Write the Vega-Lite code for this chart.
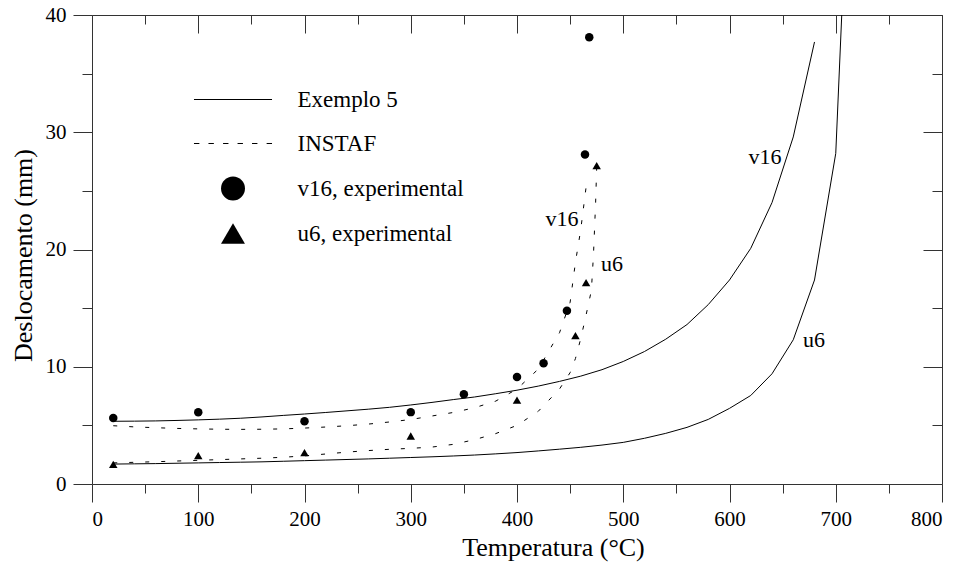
{
  "$schema": "https://vega.github.io/schema/vega-lite/v6.json",
  "autosize": {"type": "none"},
  "padding": {"left": 92, "top": 15, "right": 20, "bottom": 83},
  "width": 850,
  "height": 469,
  "background": "white",
  "config": {
    "font": "Liberation Serif",
    "view": {"stroke": null},
    "text": {"font": "Liberation Serif"},
    "legend": {"labelFont": "Liberation Serif"},
    "axis": {
      "grid": false,
      "domainColor": "#333",
      "tickColor": "#333",
      "tickWidth": 1,
      "domainWidth": 1,
      "labelFont": "Liberation Serif",
      "labelFontSize": 21,
      "labelColor": "black",
      "titleFont": "Liberation Serif",
      "titleFontSize": 26,
      "titleFontWeight": "normal",
      "titleColor": "black"
    }
  },
  "datasets": {
    "exemplo": [
      {"t": 20, "d": 5.35, "curva": "v16"}, {"t": 40, "d": 5.36, "curva": "v16"}, {"t": 60, "d": 5.38, "curva": "v16"}, {"t": 80, "d": 5.42, "curva": "v16"},
      {"t": 100, "d": 5.47, "curva": "v16"}, {"t": 120, "d": 5.53, "curva": "v16"}, {"t": 140, "d": 5.61, "curva": "v16"}, {"t": 160, "d": 5.72, "curva": "v16"},
      {"t": 180, "d": 5.85, "curva": "v16"}, {"t": 200, "d": 5.97, "curva": "v16"}, {"t": 220, "d": 6.1, "curva": "v16"}, {"t": 240, "d": 6.24, "curva": "v16"},
      {"t": 260, "d": 6.38, "curva": "v16"}, {"t": 280, "d": 6.54, "curva": "v16"}, {"t": 300, "d": 6.74, "curva": "v16"}, {"t": 320, "d": 6.96, "curva": "v16"},
      {"t": 340, "d": 7.2, "curva": "v16"}, {"t": 360, "d": 7.42, "curva": "v16"}, {"t": 380, "d": 7.7, "curva": "v16"}, {"t": 400, "d": 8.0, "curva": "v16"},
      {"t": 420, "d": 8.35, "curva": "v16"}, {"t": 440, "d": 8.75, "curva": "v16"}, {"t": 460, "d": 9.2, "curva": "v16"}, {"t": 480, "d": 9.75, "curva": "v16"},
      {"t": 500, "d": 10.45, "curva": "v16"}, {"t": 520, "d": 11.3, "curva": "v16"}, {"t": 540, "d": 12.35, "curva": "v16"}, {"t": 560, "d": 13.6, "curva": "v16"},
      {"t": 580, "d": 15.3, "curva": "v16"}, {"t": 600, "d": 17.4, "curva": "v16"}, {"t": 620, "d": 20.1, "curva": "v16"}, {"t": 640, "d": 24.0, "curva": "v16"},
      {"t": 660, "d": 29.6, "curva": "v16"}, {"t": 680, "d": 37.7, "curva": "v16"},
      {"t": 20, "d": 1.7, "curva": "u6"}, {"t": 40, "d": 1.72, "curva": "u6"}, {"t": 60, "d": 1.74, "curva": "u6"}, {"t": 80, "d": 1.77, "curva": "u6"},
      {"t": 100, "d": 1.8, "curva": "u6"}, {"t": 120, "d": 1.83, "curva": "u6"}, {"t": 140, "d": 1.86, "curva": "u6"}, {"t": 160, "d": 1.89, "curva": "u6"},
      {"t": 180, "d": 1.94, "curva": "u6"}, {"t": 200, "d": 1.99, "curva": "u6"}, {"t": 220, "d": 2.04, "curva": "u6"}, {"t": 240, "d": 2.09, "curva": "u6"},
      {"t": 260, "d": 2.14, "curva": "u6"}, {"t": 280, "d": 2.2, "curva": "u6"}, {"t": 300, "d": 2.26, "curva": "u6"}, {"t": 320, "d": 2.32, "curva": "u6"},
      {"t": 340, "d": 2.39, "curva": "u6"}, {"t": 360, "d": 2.47, "curva": "u6"}, {"t": 380, "d": 2.57, "curva": "u6"}, {"t": 400, "d": 2.68, "curva": "u6"},
      {"t": 420, "d": 2.82, "curva": "u6"}, {"t": 440, "d": 2.97, "curva": "u6"}, {"t": 460, "d": 3.13, "curva": "u6"}, {"t": 480, "d": 3.32, "curva": "u6"},
      {"t": 500, "d": 3.55, "curva": "u6"}, {"t": 520, "d": 3.9, "curva": "u6"}, {"t": 540, "d": 4.32, "curva": "u6"}, {"t": 560, "d": 4.83, "curva": "u6"},
      {"t": 580, "d": 5.51, "curva": "u6"}, {"t": 600, "d": 6.45, "curva": "u6"}, {"t": 620, "d": 7.55, "curva": "u6"}, {"t": 640, "d": 9.4, "curva": "u6"},
      {"t": 660, "d": 12.3, "curva": "u6"}, {"t": 680, "d": 17.4, "curva": "u6"}, {"t": 700, "d": 28.2, "curva": "u6"}, {"t": 720, "d": 70.0, "curva": "u6"}
    ],
    "instaf": [
      {"t": 20, "d": 4.97, "curva": "v16"}, {"t": 40, "d": 4.87, "curva": "v16"}, {"t": 60, "d": 4.8, "curva": "v16"}, {"t": 80, "d": 4.74, "curva": "v16"},
      {"t": 100, "d": 4.7, "curva": "v16"}, {"t": 120, "d": 4.67, "curva": "v16"}, {"t": 140, "d": 4.66, "curva": "v16"}, {"t": 160, "d": 4.67, "curva": "v16"},
      {"t": 180, "d": 4.7, "curva": "v16"}, {"t": 200, "d": 4.77, "curva": "v16"}, {"t": 220, "d": 4.86, "curva": "v16"}, {"t": 240, "d": 4.97, "curva": "v16"},
      {"t": 260, "d": 5.11, "curva": "v16"}, {"t": 280, "d": 5.29, "curva": "v16"}, {"t": 300, "d": 5.5, "curva": "v16"}, {"t": 320, "d": 5.8, "curva": "v16"},
      {"t": 340, "d": 6.1, "curva": "v16"}, {"t": 360, "d": 6.5, "curva": "v16"}, {"t": 380, "d": 7.07, "curva": "v16"}, {"t": 400, "d": 8.1, "curva": "v16"},
      {"t": 420, "d": 9.8, "curva": "v16"}, {"t": 440, "d": 12.9, "curva": "v16"}, {"t": 450, "d": 15.5, "curva": "v16"}, {"t": 455, "d": 18.9, "curva": "v16"},
      {"t": 460, "d": 21.7, "curva": "v16"}, {"t": 465, "d": 25.3, "curva": "v16"},
      {"t": 20, "d": 1.8, "curva": "u6"}, {"t": 40, "d": 1.85, "curva": "u6"}, {"t": 60, "d": 1.9, "curva": "u6"}, {"t": 80, "d": 1.96, "curva": "u6"},
      {"t": 100, "d": 2.02, "curva": "u6"}, {"t": 120, "d": 2.08, "curva": "u6"}, {"t": 140, "d": 2.14, "curva": "u6"}, {"t": 160, "d": 2.2, "curva": "u6"},
      {"t": 180, "d": 2.28, "curva": "u6"}, {"t": 200, "d": 2.4, "curva": "u6"}, {"t": 220, "d": 2.56, "curva": "u6"}, {"t": 240, "d": 2.72, "curva": "u6"},
      {"t": 260, "d": 2.85, "curva": "u6"}, {"t": 280, "d": 2.96, "curva": "u6"}, {"t": 300, "d": 3.04, "curva": "u6"}, {"t": 320, "d": 3.15, "curva": "u6"},
      {"t": 340, "d": 3.38, "curva": "u6"}, {"t": 360, "d": 3.78, "curva": "u6"}, {"t": 380, "d": 4.3, "curva": "u6"}, {"t": 400, "d": 5.0, "curva": "u6"},
      {"t": 420, "d": 6.2, "curva": "u6"}, {"t": 440, "d": 8.1, "curva": "u6"}, {"t": 450, "d": 9.5, "curva": "u6"}, {"t": 455, "d": 10.7, "curva": "u6"},
      {"t": 460, "d": 12.4, "curva": "u6"}, {"t": 465, "d": 14.4, "curva": "u6"}, {"t": 470, "d": 16.5, "curva": "u6"}, {"t": 472, "d": 19.6, "curva": "u6"},
      {"t": 474, "d": 24.0, "curva": "u6"}, {"t": 475, "d": 27.0, "curva": "u6"}
    ],
    "exp": [
      {"t": 20, "d": 5.63, "serie": "v16, experimental"}, {"t": 100, "d": 6.11, "serie": "v16, experimental"},
      {"t": 200, "d": 5.35, "serie": "v16, experimental"}, {"t": 300, "d": 6.13, "serie": "v16, experimental"},
      {"t": 350, "d": 7.66, "serie": "v16, experimental"}, {"t": 400, "d": 9.13, "serie": "v16, experimental"},
      {"t": 425, "d": 10.29, "serie": "v16, experimental"}, {"t": 447, "d": 14.78, "serie": "v16, experimental"},
      {"t": 464, "d": 28.1, "serie": "v16, experimental"}, {"t": 468, "d": 38.1, "serie": "v16, experimental"},
      {"t": 20, "d": 1.68, "serie": "u6, experimental"}, {"t": 100, "d": 2.42, "serie": "u6, experimental"},
      {"t": 200, "d": 2.67, "serie": "u6, experimental"}, {"t": 300, "d": 4.09, "serie": "u6, experimental"},
      {"t": 400, "d": 7.16, "serie": "u6, experimental"}, {"t": 455, "d": 12.65, "serie": "u6, experimental"},
      {"t": 465, "d": 17.17, "serie": "u6, experimental"}, {"t": 475, "d": 27.15, "serie": "u6, experimental"}
    ],
    "rotulos": [
      {"t": 442.4, "d": 22.6, "txt": "v16"}, {"t": 489.4, "d": 18.76, "txt": "u6"},
      {"t": 633.4, "d": 27.9, "txt": "v16"}, {"t": 679.5, "d": 12.28, "txt": "u6"}
    ]
  },
  "resolve": {"axis": {"x": "independent", "y": "independent"}},
  "layer": [
    {
      "data": {"name": "exemplo"},
      "mark": {"type": "line", "clip": true, "color": "black", "strokeWidth": 1},
      "encoding": {
        "x": {
          "field": "t", "type": "quantitative",
          "scale": {"domain": [0, 800], "nice": false, "zero": false},
          "axis": {
            "orient": "bottom",
            "values": [0, 50, 100, 150, 200, 250, 300, 350, 400, 450, 500, 550, 600, 650, 700, 750, 800],
            "tickSize": {"condition": {"test": "datum.value % 100 === 0", "value": 18}, "value": 9},
            "labelExpr": "datum.value % 100 === 0 ? datum.label : ''",
            "labelFont": "Liberation Serif",
            "labelFontSize": 21,
            "labelPadding": 6,
            "title": "Temperatura (°C)",
            "titleX": 461,
            "titleY": 71,
            "titleAlign": "center",
            "titleBaseline": "alphabetic"
          }
        },
        "y": {
          "field": "d", "type": "quantitative",
          "scale": {"domain": [0, 40], "nice": false, "zero": false},
          "axis": {
            "orient": "left",
            "values": [0, 5, 10, 15, 20, 25, 30, 35, 40],
            "tickSize": {"condition": {"test": "datum.value % 10 === 0", "value": 19}, "value": 10},
            "labelExpr": "datum.value % 10 === 0 ? datum.label : ''",
            "labelFont": "Liberation Serif",
            "labelFontSize": 21,
            "labelPadding": 7,
            "title": "Deslocamento (mm)",
            "titleX": -61,
            "titleY": 240,
            "titleAlign": "center",
            "titleBaseline": "alphabetic"
          }
        },
        "detail": {"field": "curva"}
      }
    },
    {
      "data": {"name": "instaf"},
      "mark": {"type": "line", "clip": true, "color": "black", "strokeWidth": 1, "strokeDash": [4, 12]},
      "encoding": {
        "x": {
          "field": "t", "type": "quantitative",
          "scale": {"domain": [0, 800], "nice": false, "zero": false},
          "axis": {
            "orient": "top",
            "values": [0, 50, 100, 150, 200, 250, 300, 350, 400, 450, 500, 550, 600, 650, 700, 750, 800],
            "tickSize": {"condition": {"test": "datum.value % 100 === 0", "value": -18}, "value": -9},
            "labels": false,
            "title": null
          }
        },
        "y": {
          "field": "d", "type": "quantitative",
          "scale": {"domain": [0, 40], "nice": false, "zero": false},
          "axis": {
            "orient": "right",
            "values": [0, 5, 10, 15, 20, 25, 30, 35, 40],
            "tickSize": {"condition": {"test": "datum.value % 10 === 0", "value": -19}, "value": -10},
            "labels": false,
            "title": null
          }
        },
        "detail": {"field": "curva"}
      }
    },
    {
      "data": {"name": "exp"},
      "mark": {"type": "point", "filled": true, "color": "black", "size": 72, "opacity": 1},
      "encoding": {
        "x": {"field": "t", "type": "quantitative", "scale": {"domain": [0, 800], "nice": false, "zero": false}, "axis": null},
        "y": {"field": "d", "type": "quantitative", "scale": {"domain": [0, 40], "nice": false, "zero": false}, "axis": null},
        "shape": {
          "field": "serie", "type": "nominal",
          "scale": {
            "domain": ["Exemplo 5", "INSTAF", "v16, experimental", "u6, experimental"],
            "range": ["M-3.26,-0.04L3.26,-0.04L3.26,0.04L-3.26,0.04Z", "M-3.26,-0.04L-2.81,-0.04L-2.81,0.04L-3.26,0.04ZM-2.05,-0.04L-1.6,-0.04L-1.6,0.04L-2.05,0.04ZM-0.83,-0.04L-0.38,-0.04L-0.38,0.04L-0.83,0.04ZM0.38,-0.04L0.83,-0.04L0.83,0.04L0.38,0.04ZM1.59,-0.04L2.04,-0.04L2.04,0.04L1.59,0.04ZM2.81,-0.04L3.26,-0.04L3.26,0.04L2.81,0.04Z", "circle", "triangle-up"]
          },
          "legend": {
            "orient": "none",
            "legendX": 128.5,
            "legendY": 72,
            "title": null,
            "padding": 0,
            "symbolSize": 573,
            "symbolFillColor": "black",
            "symbolStrokeColor": "black",
            "symbolStrokeWidth": 0.5,
            "labelFont": "Liberation Serif",
            "labelFontSize": 23,
            "labelColor": "black",
            "labelOffset": 52,
            "labelLimit": 400,
            "rowPadding": 19,
            "encode": {
              "symbols": {"update": {"stroke": {"value": "black"}, "strokeWidth": {"value": 0.5}, "fill": {"value": "black"}, "opacity": {"value": 1}}},
              "labels": {"update": {"font": {"value": "Liberation Serif"}}}
            }
          }
        }
      }
    },
    {
      "data": {"name": "rotulos"},
      "mark": {"type": "text", "font": "Liberation Serif", "fontSize": 22, "color": "black", "align": "center", "baseline": "middle"},
      "encoding": {
        "x": {"field": "t", "type": "quantitative", "scale": {"domain": [0, 800], "nice": false, "zero": false}, "axis": null},
        "y": {"field": "d", "type": "quantitative", "scale": {"domain": [0, 40], "nice": false, "zero": false}, "axis": null},
        "text": {"field": "txt"}
      }
    }
  ]
}
